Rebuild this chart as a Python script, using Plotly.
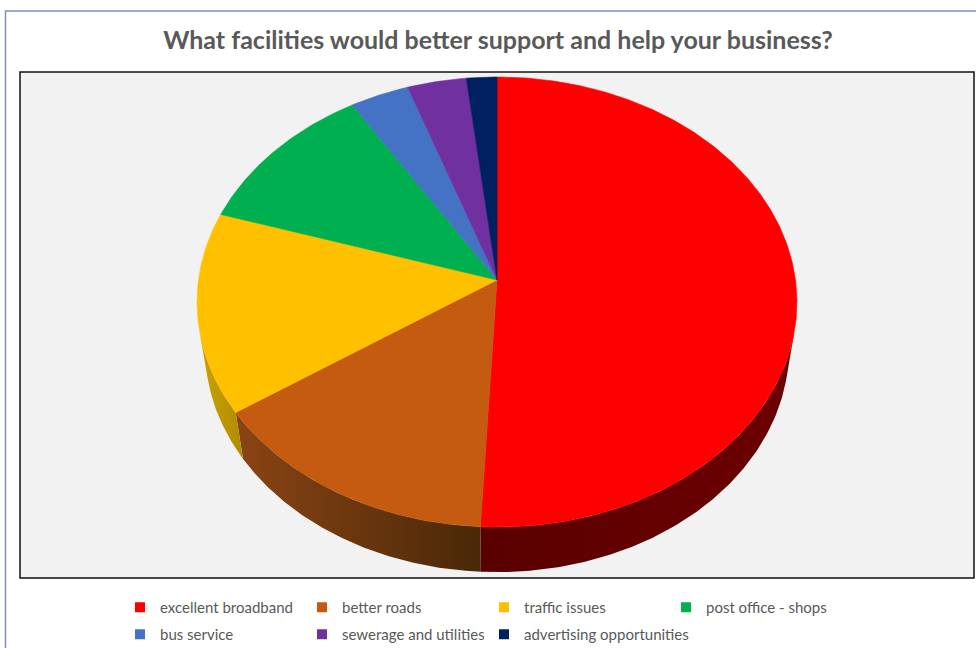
import numpy as np
import plotly.graph_objects as go

# Survey answers (share of responses, %)
labels = [
    "excellent broadband",
    "better roads",
    "traffic issues",
    "post office - shops",
    "bus service",
    "sewerage and utilities",
    "advertising opportunities",
]
values = [50.8, 14.7, 14.4, 11.3, 3.5, 3.5, 1.8]

top_colors = ["#FF0000", "#C55A11", "#FFC000", "#00B050", "#4472C4", "#7030A0", "#002060"]
# side-wall shading, left -> right
wall_colors = [
    ("#5a0000", "#6c0000"),
    ("#8a4414", "#4a2808"),
    ("#c9a300", "#b08c00"),
    ("#00702f", "#005a26"),
    ("#2f5290", "#24406f"),
    ("#4f2272", "#3d1a58"),
    ("#001540", "#001030"),
]

# 3-D view of the pie: camera tilt, distance, disc thickness
TILT = np.radians(48.3)
DIST = 6.79
THICK = 0.244
ct, st = np.cos(TILT), np.sin(TILT)


def project(X, Y, Z):
    depth = DIST + Z * ct - Y * st
    return X * DIST / depth, (Y * ct + Z * st) * DIST / depth


# rim angles whose outer wall faces the camera
vis = np.degrees(np.arccos(-1.0 / (DIST * ct)))
vis_lo, vis_hi = vis, 360 - vis

total = sum(values)
bounds = np.concatenate([[0], np.cumsum(values) / total * 360])

fig = go.Figure()

# outer walls
for i in range(len(values)):
    a0, a1 = max(bounds[i], vis_lo), min(bounds[i + 1], vis_hi)
    if a1 <= a0:
        continue
    t = np.radians(np.linspace(a0, a1, 120))
    X, Z = np.sin(t), np.cos(t)
    xt, yt = project(X, 0 * X, Z)
    xb, yb = project(X, -THICK + 0 * X, Z)
    xs = np.concatenate([xt, xb[::-1], xt[:1]])
    ys = np.concatenate([yt, yb[::-1], yt[:1]])
    fig.add_trace(go.Scatter(
        x=xs, y=ys, mode="lines", fill="toself",
        line=dict(width=0),
        fillgradient=dict(type="horizontal",
                          colorscale=[[0, wall_colors[i][0]], [1, wall_colors[i][1]]]),
        hoverinfo="skip", showlegend=False,
    ))

# top faces
for i in range(len(values)):
    t = np.radians(np.linspace(bounds[i], bounds[i + 1], max(8, int(values[i] * 6))))
    X, Z = np.sin(t), np.cos(t)
    xa, ya = project(X, 0 * X, Z)
    xs = np.concatenate([[0], xa, [0]])
    ys = np.concatenate([[0], ya, [0]])
    fig.add_trace(go.Scatter(
        x=xs, y=ys, mode="lines", fill="toself",
        fillcolor=top_colors[i], line=dict(color=top_colors[i], width=0.6),
        name=labels[i], hoverinfo="name", showlegend=False,
    ))

# legend entries: four in the first row, the rest in the second
legend_ids = ["legend"] * 4 + ["legend2"] * 2 + ["legend3"]
for lab, col, lid in zip(labels, top_colors, legend_ids):
    fig.add_trace(go.Scatter(
        x=[None], y=[None], mode="markers", name=lab,
        marker=dict(symbol="square", size=10, color=col),
        legend=lid,
    ))

W, H = 976, 648
L, R, T, B = 20, 2, 72, 70
SCALE = 298.5          # pixels per pie unit
CX, CY = 497, 280      # pie centre on the page
x_range = [(L - CX) / SCALE, (W - R - CX) / SCALE]
y_range = [-(H - B - CY) / SCALE, (CY - T) / SCALE]

legend_style = dict(
    orientation="h",
    xref="container", xanchor="left",
    yref="container", yanchor="top",
    font=dict(size=15, color="#595959"),
    bgcolor="rgba(0,0,0,0)",
)
COL = 182   # legend column pitch, px

fig.update_layout(
    width=W, height=H,
    margin=dict(l=L, r=R, t=T, b=B),
    paper_bgcolor="white",
    plot_bgcolor="#F2F2F2",
    font=dict(family="Lato, Open Sans, sans-serif", color="#595959"),
    title=dict(
        text="<b>What facilities would better support and help your business?</b>",
        font=dict(size=25, color="#595959", family="Lato, Open Sans, sans-serif"),
        x=498 / W, xanchor="center", xref="container",
        y=1 - 40 / H, yanchor="middle", yref="container",
    ),
    xaxis=dict(range=x_range, visible=False, fixedrange=True),
    yaxis=dict(range=y_range, visible=False, fixedrange=True),
    legend=dict(legend_style, x=120 / W, y=1 - 591 / H,
                entrywidth=COL - 45, entrywidthmode="pixels"),
    legend2=dict(legend_style, x=120 / W, y=1 - 618 / H,
                 entrywidth=COL - 45, entrywidthmode="pixels"),
    legend3=dict(legend_style, x=(120 + 2 * COL) / W, y=1 - 618 / H),
    shapes=[
        # plot-area frame
        dict(type="rect", xref="paper", yref="paper", x0=0, x1=1, y0=0, y1=1,
             line=dict(color="#111111", width=1.5), layer="above"),
        # chart frame
        dict(type="rect", xref="paper", yref="paper",
             x0=(5.5 - L) / (W - L - R), x1=(W + 20 - L) / (W - L - R),
             y0=-(H + 20 - (H - B)) / (H - T - B), y1=1 + (T - 11) / (H - T - B),
             line=dict(color="#7f8faf", width=1.5), layer="below"),
    ],
)

fig.write_html("out.html")
